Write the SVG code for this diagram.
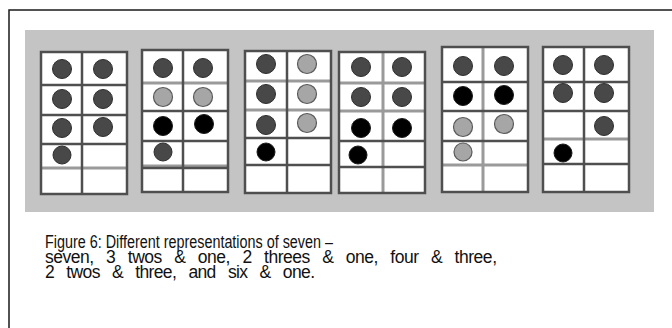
<svg xmlns="http://www.w3.org/2000/svg" width="672" height="328" viewBox="0 0 672 328">
<style>
.frame{fill:none;stroke:#1a1a1a;stroke-width:1.5}
.cell{fill:#ffffff}
.ln{stroke:#4f4f4f;stroke-width:2.5;fill:none}
.lt{stroke:#9a9a9a;stroke-width:3;fill:none}
.d{fill:#484848;stroke:#2e2e2e;stroke-width:1}
.g{fill:#a6a6a6;stroke:#5a5a5a;stroke-width:1.2}
.b{fill:#000000;stroke:#1a1a1a;stroke-width:1}
.cap{font-family:"Liberation Sans Narrow","Liberation Sans",Arial,sans-serif;font-size:17.5px;fill:#111111}
.ws{word-spacing:8px}
</style>
<rect x="0" y="0" width="672" height="328" fill="#ffffff"/>
<path class="frame" d="M9 328 V10 H672"/>
<rect x="25" y="30" width="629" height="182" fill="#c4c4c4"/>

<g id="grid1">
<rect class="cell" x="41" y="52" width="86" height="142"/>
<path class="lt" d="M41 168 H127"/>
<path class="ln" d="M41 52 H127 V194 H41 Z M82 52 V194 M41 85 H127 M41 115 H127 M41 144 H127"/>
<circle class="d" cx="62" cy="69" r="9.5"/><circle class="d" cx="103" cy="69" r="9.5"/>
<circle class="d" cx="62" cy="99" r="9.5"/><circle class="d" cx="103" cy="99" r="9.5"/>
<circle class="d" cx="62" cy="128" r="9.5"/><circle class="d" cx="103" cy="127" r="9.5"/>
<circle class="d" cx="62" cy="155" r="9"/>
</g>

<g id="grid2">
<rect class="cell" x="142" y="50" width="86" height="142"/>
<path class="lt" d="M142 83 H228 M142 166 H228"/>
<path class="ln" d="M142 50 H228 V192 H142 Z M183 50 V192 M142 111 H228 M142 141 H228 M142 168 H228"/>
<circle class="d" cx="163" cy="68" r="9.5"/><circle class="d" cx="203" cy="68" r="9.5"/>
<circle class="g" cx="163" cy="97" r="9.5"/><circle class="g" cx="203" cy="97" r="9.5"/>
<circle class="b" cx="163" cy="126" r="9.5"/><circle class="b" cx="204" cy="124" r="9.5"/>
<circle class="d" cx="163" cy="152" r="9"/>
</g>

<g id="grid3">
<rect class="cell" x="245" y="51" width="86" height="142"/>
<path class="lt" d="M245 81 H331 M245 110 H331"/>
<path class="ln" d="M245 51 H331 V193 H245 Z M287 51 V193 M245 138 H331 M245 165 H331"/>
<circle class="d" cx="266" cy="64" r="9.5"/><circle class="g" cx="307" cy="64" r="9.5"/>
<circle class="d" cx="266" cy="94" r="9.5"/><circle class="g" cx="307" cy="94" r="9.5"/>
<circle class="d" cx="266" cy="125" r="9.5"/><circle class="g" cx="307" cy="123" r="9.5"/>
<circle class="b" cx="266" cy="152" r="9"/>
</g>

<g id="grid4">
<rect class="cell" x="339" y="52" width="86" height="141"/>
<path class="lt" d="M339 83 H425 M339 111 H425 M383 52 V193"/>
<path class="ln" d="M339 52 H425 V193 H339 Z M339 141 H425 M339 167 H425"/>
<circle class="d" cx="361" cy="67" r="9.5"/><circle class="d" cx="402" cy="67" r="9.5"/>
<circle class="d" cx="361" cy="97" r="9.5"/><circle class="d" cx="402" cy="97" r="9.5"/>
<circle class="b" cx="361" cy="128" r="9.5"/><circle class="b" cx="402" cy="128" r="9.5"/>
<circle class="b" cx="358" cy="155" r="9"/>
</g>

<g id="grid5">
<rect class="cell" x="442" y="47" width="86" height="145"/>
<path class="lt" d="M442 165 H528 M483 47 V192"/>
<path class="ln" d="M442 47 H528 V192 H442 Z M442 82 H528 M442 111 H528 M442 141 H528"/>
<circle class="d" cx="463" cy="66" r="9.5"/><circle class="d" cx="504" cy="66" r="9.5"/>
<circle class="b" cx="463" cy="96" r="9.5"/><circle class="b" cx="504" cy="95" r="9.5"/>
<circle class="g" cx="463" cy="127" r="9.5"/><circle class="g" cx="504" cy="124" r="9.5"/>
<circle class="g" cx="463" cy="152" r="9"/>
</g>

<g id="grid6">
<rect class="cell" x="543" y="47" width="86" height="145"/>
<path class="lt" d="M543 139 H629"/>
<path class="ln" d="M543 47 H629 V192 H543 Z M584 47 V192 M543 82 H629 M543 111 H629 M543 164 H629"/>
<circle class="d" cx="563" cy="65" r="9.5"/><circle class="d" cx="604" cy="65" r="9.5"/>
<circle class="d" cx="563" cy="93" r="9.5"/><circle class="d" cx="604" cy="93" r="9.5"/>
<circle class="d" cx="604" cy="126" r="9.5"/>
<circle class="b" cx="563" cy="153" r="9"/>
</g>

<g id="caption">
<text class="cap" x="45" y="248" textLength="288" lengthAdjust="spacingAndGlyphs">Figure 6: Different representations of seven –</text>
<text class="cap ws" x="45" y="263" textLength="452" lengthAdjust="spacing">seven, 3 twos &amp; one, 2 threes &amp; one, four &amp; three,</text>
<text class="cap ws" x="45" y="278" textLength="270" lengthAdjust="spacing">2 twos &amp; three, and six &amp; one.</text>
</g>
</svg>
